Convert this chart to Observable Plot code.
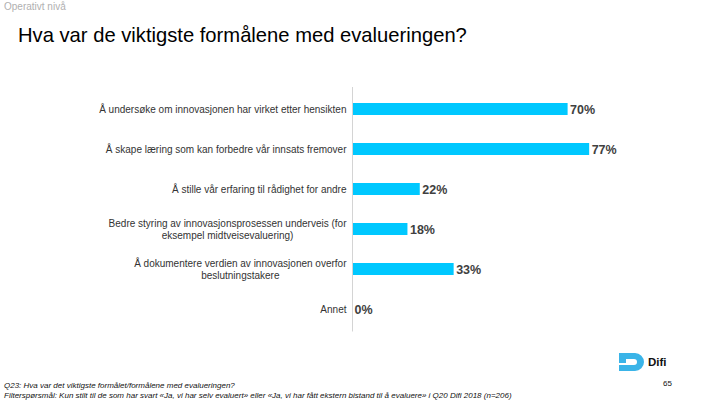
<!DOCTYPE html>
<html><head><meta charset="utf-8">
<script src="https://cdn.jsdelivr.net/npm/d3@7"></script>
<script src="https://cdn.jsdelivr.net/npm/@observablehq/plot@0.6"></script>
<style>
html,body{margin:0;padding:0;background:#fff;}
#wrap{position:relative;width:720px;height:405px;overflow:hidden;font-family:"Liberation Sans",Arial,sans-serif;}
#kicker{position:absolute;left:4px;top:1px;font-size:10px;color:#b0b0b0;}
#title{position:absolute;left:18px;top:24px;font-size:20.2px;color:#000;}
#foot{position:absolute;left:4px;top:381px;font-size:8px;font-style:italic;color:#111;line-height:10px;white-space:nowrap;}
#logo{position:absolute;left:617px;top:350px;}
#logotext{position:absolute;left:648px;top:356px;font-size:11.5px;font-weight:bold;color:#111;}
#page{position:absolute;left:663px;top:379px;font-size:8px;color:#111;}
#chart{position:absolute;left:0;top:0;}
</style></head>
<body><div id="wrap">
<div id="chart"></div>
<div id="kicker">Operativt nivå</div>
<div id="title">Hva var de viktigste formålene med evalueringen?</div>
<svg id="logo" width="30" height="24" viewBox="0 0 30 24"><path d="M2 3 H18 A9 9 0 0 1 18 21 H2 V15 H17 A3 3 0 0 0 17 9 H9 V13 H2 Z" fill="#3ab4e8"/></svg>
<div id="logotext">Difi</div>
<div id="page">65</div>
<div id="foot">Q23: Hva var det viktigste formålet/formålene med evalueringen?<br>Filterspørsmål: Kun stilt til de som har svart «Ja, vi har selv evaluert» eller «Ja, vi har fått ekstern bistand til å evaluere» i Q20 Difi 2018 (n=206)</div>
</div>
<script>
const categories = [
  "Å undersøke om innovasjonen har virket etter hensikten",
  "Å skape læring som kan forbedre vår innsats fremover",
  "Å stille vår erfaring til rådighet for andre",
  "Bedre styring av innovasjonsprosessen underveis (for\neksempel midtveisevaluering)",
  "Å dokumentere verdien av innovasjonen overfor\nbeslutningstakere",
  "Annet"
];
const values = [70, 77, 22, 18, 33, 0];
const data = categories.map((c, i) => ({category: c, value: values[i]}));

const plot = Plot.plot({
  width: 720,
  height: 405,
  marginLeft: 352,
  marginRight: 60,
  marginTop: 87,
  marginBottom: 73.5,
  style: {fontFamily: "'Liberation Sans', Arial, sans-serif", background: "transparent"},
  x: {domain: [0, 100], axis: null},
  y: {domain: categories, paddingInner: 0.7, paddingOuter: 0.35, label: null},
  marks: [
    Plot.barX(data, {x: "value", y: "category", fill: "#00c8ff"}),
    Plot.ruleX([0], {stroke: "#d4d4d4", strokeWidth: 1}),
    Plot.text(data, {x: "value", y: "category", text: d => d.value + "%", textAnchor: "start", dx: 2, fontSize: 12.5, fontWeight: "bold", fill: "#404040"}),
    Plot.axisY({tickSize: 0, tickPadding: 6, fontSize: 10, color: "#333", label: null, lineHeight: 1.15})
  ]
});
document.getElementById("chart").appendChild(plot);

// center multi-line labels relative to each other, keeping the block right-aligned
plot.querySelectorAll('g[aria-label="y-axis tick label"] text').forEach(t => {
  const spans = t.querySelectorAll("tspan");
  if (spans.length > 1) {
    let w = 0;
    spans.forEach(s => { w = Math.max(w, s.getComputedTextLength()); });
    t.setAttribute("text-anchor", "middle");
    spans.forEach(s => s.setAttribute("x", -w / 2));
  }
});
</script>
</body></html>
